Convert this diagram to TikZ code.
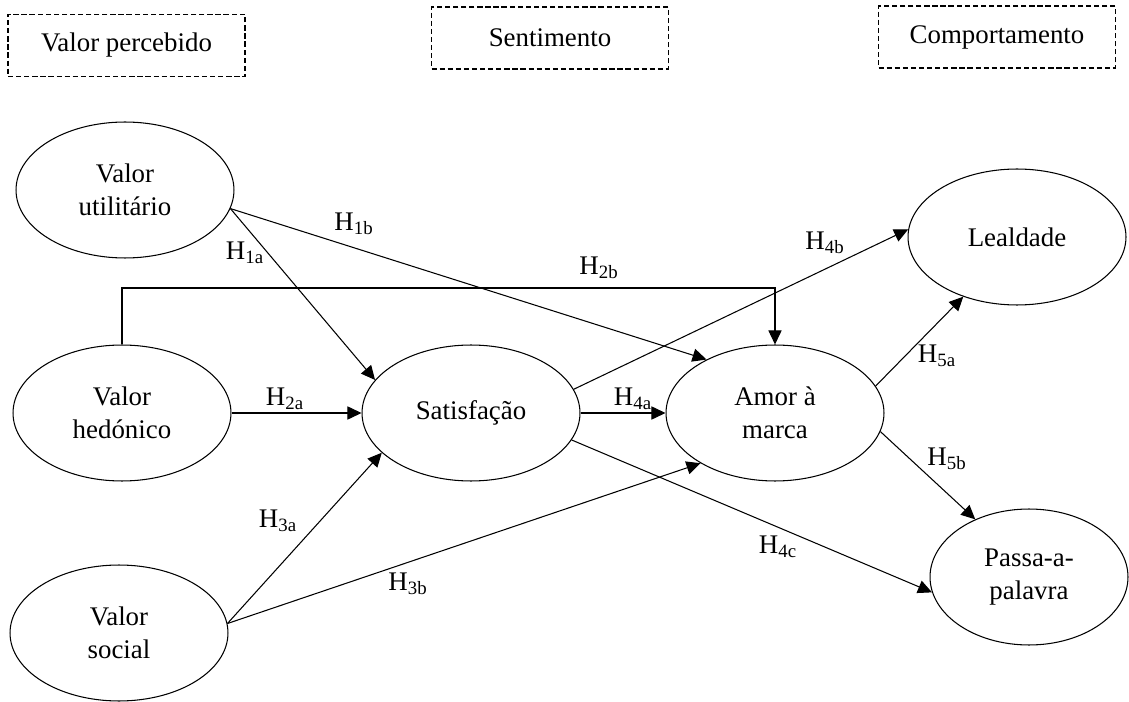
\documentclass[tikz,border=0pt]{standalone}
\usepackage{fontspec}
\setmainfont{Liberation Serif}
\usetikzlibrary{shapes.geometric,arrows.meta}
\begin{document}
\begin{tikzpicture}[x=0.02cm, y=-0.02cm, line width=0.6pt,
    font=\fontsize{15.3}{19}\selectfont,
    construct/.style={ellipse, draw, minimum width=4.36cm, minimum height=2.72cm, inner sep=0pt, align=center},
    group/.style={draw, dash pattern=on 3pt off 1.6pt, minimum width=4.74cm, minimum height=1.24cm, inner sep=0pt},
    hyp/.style={-{Triangle[length=8pt,width=7.5pt]}},
    lbl/.style={inner sep=0pt}]
    \useasboundingbox (0,0) rectangle (1129,702);
    % dimension boxes
    \node [group] (vp) at (126.5,45.5) {Valor percebido};
    \node [group] (se) at (550,38) {Sentimento};
    \node [group] (co) at (997,37) {Comportamento};
    % constructs
    \node [construct] (vu) at (125,190) {Valor\\utilitário};
    \node [construct] (vh) at (122,413) {Valor\\hedónico};
    \node [construct] (vs) at (119,633) {Valor\\social};
    \node [construct] (sat) at (471,413) {Satisfação};
    \node [construct] (am) at (775,413) {Amor à\\marca};
    \node [construct] (le) at (1017,237) {Lealdade};
    \node [construct, minimum width=3.96cm] (pp) at (1029,577) {Passa-a-\\palavra};
    \coordinate (bend) at (500,288);
    % hypotheses
    \draw [hyp] (vu.-10) -- (sat.161);
    \draw [hyp] (vu.-10) -- (am.142);
    \draw [hyp] (vh.east) -- (sat.west);
    \draw [hyp] (vh.north) |- (bend) -| (am.north);
    \draw [hyp] (vs.5) -- (sat.204);
    \draw [hyp] (vs.5) -- (am.214);
    \draw [hyp] (sat.east) -- (am.west);
    \draw [hyp] (sat.13) -- (le.176);
    \draw [hyp] (sat.-15) -- (pp.189);
    \draw [hyp] (am.15) -- (le.228);
    \draw [hyp] (am.-10) -- (pp.133);
    \node [lbl] (h1a) at (245,253) {H\textsubscript{1a}};
    \node [lbl] (h1b) at (354,224) {H\textsubscript{1b}};
    \node [lbl] (h2a) at (285,399) {H\textsubscript{2a}};
    \node [lbl] (h2b) at (599,268) {H\textsubscript{2b}};
    \node [lbl] (h3a) at (278,521) {H\textsubscript{3a}};
    \node [lbl] (h3b) at (408,584) {H\textsubscript{3b}};
    \node [lbl] (h4a) at (633,399) {H\textsubscript{4a}};
    \node [lbl] (h4b) at (825,243) {H\textsubscript{4b}};
    \node [lbl] (h4c) at (778,547) {H\textsubscript{4c}};
    \node [lbl] (h5a) at (937,356) {H\textsubscript{5a}};
    \node [lbl] (h5b) at (947,459) {H\textsubscript{5b}};
\end{tikzpicture}
\end{document}
